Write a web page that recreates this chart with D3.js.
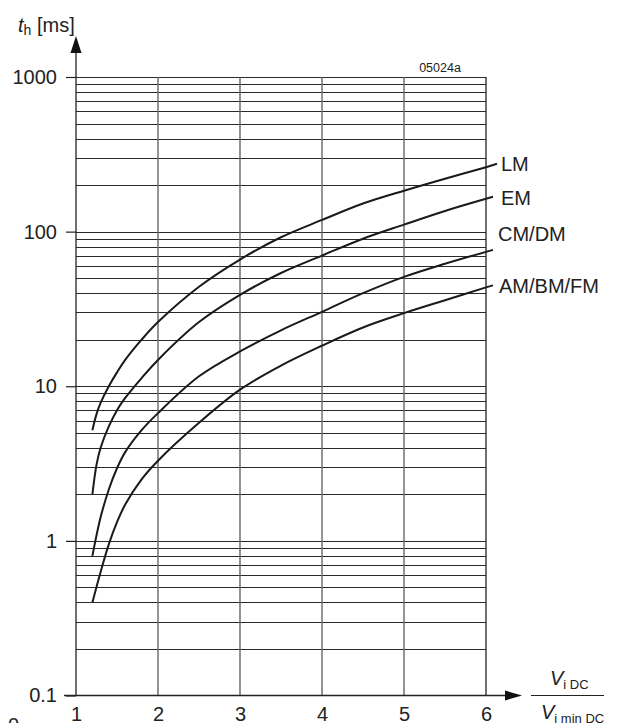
<!DOCTYPE html>
<html>
<head>
<meta charset="utf-8">
<script src="https://cdn.jsdelivr.net/npm/d3@7"></script>
<style>
  body { margin: 0; background: #fff; }
  svg { font-family: "Liberation Sans", Arial, sans-serif; }
</style>
</head>
<body>
<svg width="622" height="723"></svg>
<script>
// ratio V_i DC / V_i min DC  ->  hold-up time t_h [ms]
const lmX = [1.2, 1.25, 1.3, 1.4, 1.5, 1.6, 1.8, 2, 2.5, 3, 3.5, 4, 4.5, 5, 5.5, 6];
const lmY = [5.2, 6.6, 7.8, 10, 12.3, 14.8, 20, 26, 44, 66, 92, 119, 152, 184, 220, 261];

const emX = [1.2, 1.25, 1.3, 1.4, 1.5, 1.6, 1.8, 2, 2.5, 3, 3.5, 4, 4.5, 5, 5.5, 6];
const emY = [2.0, 3.1, 4.0, 5.5, 7.0, 8.4, 11.3, 14.8, 26, 39, 54, 70, 90, 111, 136, 163];

const cmX = [1.2, 1.3, 1.4, 1.5, 1.6, 1.8, 2, 2.5, 3, 3.5, 4, 4.5, 5, 5.5, 6];
const cmY = [0.8, 1.42, 2.15, 2.95, 3.75, 5.2, 6.7, 11.6, 16.8, 23, 30.3, 40, 51, 62, 74];

const amX = [1.2, 1.3, 1.4, 1.5, 1.6, 1.8, 2, 2.5, 3, 3.5, 4, 4.5, 5, 5.5, 6];
const amY = [0.4, 0.63, 0.95, 1.32, 1.72, 2.5, 3.3, 5.8, 9.5, 13.6, 18.3, 24, 29.7, 36, 43.6];

const seriesNames = ['LM', 'EM', 'CM/DM', 'AM/BM/FM'];
const xTicks = [1, 2, 3, 4, 5, 6];
const yTicks = [0.1, 1, 10, 100, 1000];

const series = [
  { name: seriesNames[0], xs: lmX, ys: lmY },
  { name: seriesNames[1], xs: emX, ys: emY },
  { name: seriesNames[2], xs: cmX, ys: cmY },
  { name: seriesNames[3], xs: amX, ys: amY },
];

// label layout: leader end offset and text position
const labelLayout = [
  { dx: 11, dy: -3.5, tx: 501, ty: 171 },
  { dx: 7, dy: -2, tx: 501, ty: 205 },
  { dx: 7, dy: -2, tx: 498, ty: 241 },
  { dx: 7, dy: -2, tx: 499, ty: 293 },
];

const svg = d3.select('svg');
const plotLeft = 76, plotRight = 486, plotTop = 77, plotBottom = 695.5;

const xScale = d3.scaleLinear().domain([1, 6]).range([plotLeft, plotRight]);
const yScale = d3.scaleLog().domain([0.1, 1000]).range([plotBottom, plotTop]);

// horizontal grid: 1..9 in every decade
const minor = [];
for (let e = -1; e < 3; e++) {
  for (let m = 1; m <= 9; m++) minor.push(m * Math.pow(10, e));
}
minor.push(1000);

svg.append('g')
  .selectAll('line')
  .data(minor.filter(d => d > 0.1))
  .enter()
  .append('line')
  .attr('x1', plotLeft)
  .attr('x2', plotRight)
  .attr('y1', d => Math.round(yScale(d)) + 0.5)
  .attr('y2', d => Math.round(yScale(d)) + 0.5)
  .attr('stroke', '#2a2a2a')
  .attr('stroke-width', 1.1);

// vertical grid
svg.append('g')
  .selectAll('line')
  .data(xTicks.slice(1))
  .enter()
  .append('line')
  .attr('x1', d => xScale(d))
  .attr('x2', d => xScale(d))
  .attr('y1', plotTop)
  .attr('y2', plotBottom)
  .attr('stroke', d => (d === 6 ? '#222' : '#666'))
  .attr('stroke-width', d => (d === 6 ? 1.3 : 1.4));

// curves
const line = d3.line()
  .x(d => xScale(d[0]))
  .y(d => yScale(d[1]))
  .curve(d3.curveCatmullRom.alpha(0.5));

series.forEach((s, i) => {
  const pts = s.xs.map((x, j) => [x, s.ys[j]]);
  svg.append('path')
    .attr('d', line(pts))
    .attr('fill', 'none')
    .attr('stroke', '#1a1a1a')
    .attr('stroke-width', 2);

  const lx = xScale(s.xs[s.xs.length - 1]);
  const ly = yScale(s.ys[s.ys.length - 1]);
  const lay = labelLayout[i];
  svg.append('line')
    .attr('x1', lx)
    .attr('y1', ly)
    .attr('x2', lx + lay.dx)
    .attr('y2', ly + lay.dy)
    .attr('stroke', '#1a1a1a')
    .attr('stroke-width', 2);
  svg.append('text')
    .attr('x', lay.tx)
    .attr('y', lay.ty)
    .attr('font-size', 20)
    .attr('fill', '#222')
    .text(s.name);
});

// y axis
const yAxis = d3.axisLeft(yScale)
  .tickValues(yTicks)
  .tickSize(10)
  .tickPadding(9)
  .tickFormat(d => String(d));

const yG = svg.append('g')
  .attr('transform', `translate(${plotLeft},0)`)
  .call(yAxis);
yG.select('.domain').remove();
yG.selectAll('line').attr('stroke', '#222').attr('stroke-width', 1.2);
yG.selectAll('text')
  .attr('font-size', 20)
  .attr('font-family', '"Liberation Sans", Arial, sans-serif')
  .attr('fill', '#222');

svg.append('line')
  .attr('x1', plotLeft).attr('x2', plotLeft)
  .attr('y1', plotBottom).attr('y2', 50)
  .attr('stroke', '#222').attr('stroke-width', 1.3);
svg.append('path')
  .attr('d', `M${plotLeft},36 L${plotLeft - 5.5},53 L${plotLeft + 5.5},53 Z`)
  .attr('fill', '#111');

// x axis
const xAxis = d3.axisBottom(xScale)
  .tickValues(xTicks)
  .tickSize(0)
  .tickPadding(11)
  .tickFormat(d3.format('d'));

const xG = svg.append('g')
  .attr('transform', `translate(0,${plotBottom})`)
  .call(xAxis);
xG.select('.domain').remove();
xG.selectAll('text')
  .attr('font-size', 20)
  .attr('font-family', '"Liberation Sans", Arial, sans-serif')
  .attr('fill', '#222');

svg.append('line')
  .attr('x1', 64).attr('x2', 508)
  .attr('y1', plotBottom).attr('y2', plotBottom)
  .attr('stroke', '#222').attr('stroke-width', 1.3);
svg.append('path')
  .attr('d', `M522,${plotBottom} L505,${plotBottom - 5} L505,${plotBottom + 5} Z`)
  .attr('fill', '#111');

// axis titles
const yTitle = svg.append('text')
  .attr('x', 18)
  .attr('y', 32)
  .attr('font-size', 20)
  .attr('fill', '#222');
yTitle.append('tspan').attr('font-style', 'italic').text('t');
yTitle.append('tspan').attr('font-size', 14).attr('dy', 3).text('h');
yTitle.append('tspan').attr('dy', -3).text(' [ms]');

const num = svg.append('text')
  .attr('x', 550)
  .attr('y', 685)
  .attr('font-size', 20)
  .attr('fill', '#222');
num.append('tspan').attr('font-style', 'italic').text('V');
num.append('tspan').attr('font-size', 13).attr('dy', 4).text('i DC');

svg.append('line')
  .attr('x1', 531).attr('x2', 604)
  .attr('y1', 695.5).attr('y2', 695.5)
  .attr('stroke', '#222').attr('stroke-width', 1.2);

const den = svg.append('text')
  .attr('x', 541)
  .attr('y', 719)
  .attr('font-size', 20)
  .attr('fill', '#222');
den.append('tspan').attr('font-style', 'italic').text('V');
den.append('tspan').attr('font-size', 13).attr('dy', 4).text('i min DC');

// drawing code
svg.append('text')
  .attr('x', 440)
  .attr('y', 71.5)
  .attr('text-anchor', 'middle')
  .attr('font-size', 12.5)
  .attr('fill', '#222')
  .text('05024a');

// partial glyph at the page corner
svg.append('text')
  .attr('x', 8)
  .attr('y', 732)
  .attr('font-size', 20)
  .attr('fill', '#222')
  .text('0');
</script>
</body>
</html>
